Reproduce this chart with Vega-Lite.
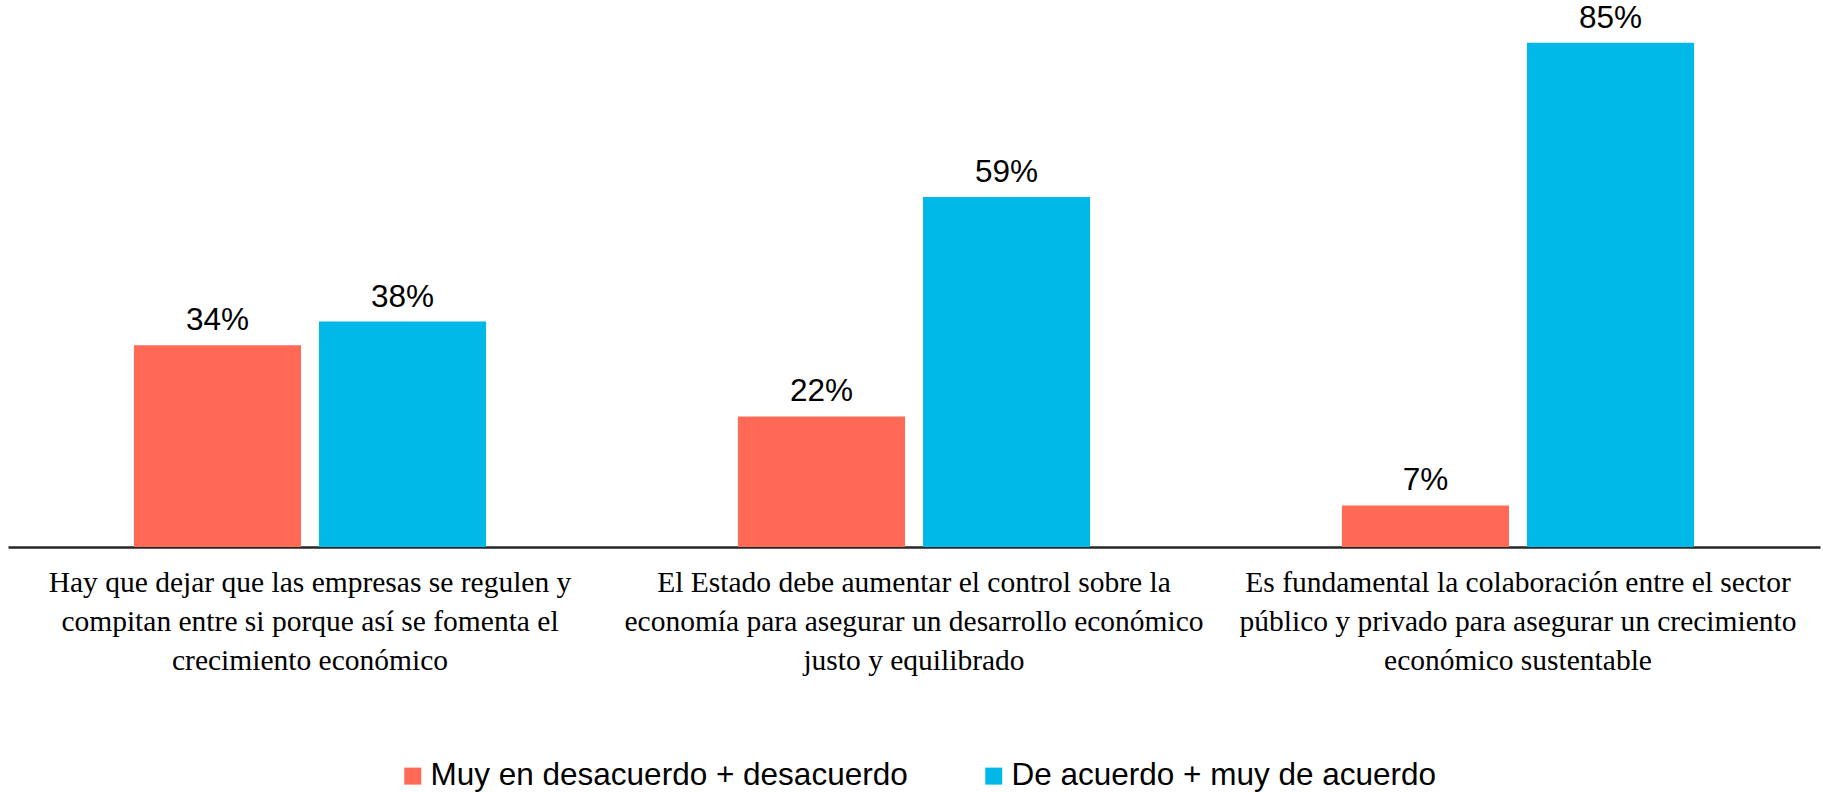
{
  "$schema": "https://vega.github.io/schema/vega-lite/v6.json",
  "autosize": {"type": "none"},
  "width": 1812,
  "height": 542,
  "padding": {"left": 8, "top": 5, "right": 3, "bottom": 245},
  "background": "white",
  "config": {"view": {"stroke": null}},
  "data": {
    "values": [
      {"afirmacion": "Hay que dejar que las empresas se regulen y|compitan entre si porque así se fomenta el|crecimiento económico", "grupo": "Muy en desacuerdo + desacuerdo", "valor": 0.34},
      {"afirmacion": "Hay que dejar que las empresas se regulen y|compitan entre si porque así se fomenta el|crecimiento económico", "grupo": "De acuerdo + muy de acuerdo", "valor": 0.38},
      {"afirmacion": "El Estado debe aumentar el control sobre la|economía para asegurar un desarrollo económico|justo y equilibrado", "grupo": "Muy en desacuerdo + desacuerdo", "valor": 0.22},
      {"afirmacion": "El Estado debe aumentar el control sobre la|economía para asegurar un desarrollo económico|justo y equilibrado", "grupo": "De acuerdo + muy de acuerdo", "valor": 0.59},
      {"afirmacion": "Es fundamental la colaboración entre el sector|público y privado para asegurar un crecimiento|económico sustentable", "grupo": "Muy en desacuerdo + desacuerdo", "valor": 0.07},
      {"afirmacion": "Es fundamental la colaboración entre el sector|público y privado para asegurar un crecimiento|económico sustentable", "grupo": "De acuerdo + muy de acuerdo", "valor": 0.85}
    ]
  },
  "encoding": {
    "x": {
      "field": "afirmacion", "type": "nominal", "sort": null, "title": null,
      "scale": {"paddingInner": 0.417, "paddingOuter": 0.2085},
      "axis": {
        "labelAngle": 0,
        "labelExpr": "split(datum.label, '|')",
        "labelFont": "Liberation Serif",
        "labelFontSize": 29.5,
        "labelLineHeight": 39,
        "labelColor": "#000000",
        "labelPadding": 21,
        "labelLimit": 0,
        "labelBaseline": "top",
        "ticks": false,
        "grid": false,
        "domainColor": "#262626",
        "domainWidth": 2.5
      }
    },
    "xOffset": {
      "field": "grupo", "type": "nominal",
      "sort": ["Muy en desacuerdo + desacuerdo", "De acuerdo + muy de acuerdo"],
      "scale": {"paddingInner": 0.0973, "paddingOuter": 0}
    },
    "y": {
      "field": "valor", "type": "quantitative",
      "scale": {"domain": [0, 0.9135], "nice": false},
      "axis": null
    }
  },
  "layer": [
    {
      "mark": {"type": "bar"},
      "encoding": {
        "color": {
          "field": "grupo", "type": "nominal",
          "sort": ["Muy en desacuerdo + desacuerdo", "De acuerdo + muy de acuerdo"],
          "scale": {"domain": ["Muy en desacuerdo + desacuerdo", "De acuerdo + muy de acuerdo"], "range": ["#FF6955", "#00B9E8"]},
          "legend": {
            "title": null,
            "orient": "none",
            "legendX": 389,
            "legendY": 755,
            "padding": 0,
            "direction": "horizontal",
            "symbolType": "square",
            "symbolSize": 289,
            "symbolStrokeWidth": 0,
            "labelFont": "Liberation Sans",
            "labelFontSize": 31.5,
            "labelColor": "#000000",
            "labelLimit": 0,
            "labelOffset": 2,
            "columnPadding": 70
          }
        }
      }
    },
    {
      "mark": {"type": "text", "baseline": "alphabetic", "dy": -15, "font": "Liberation Sans", "fontSize": 31.5, "color": "#000000"},
      "encoding": {
        "text": {"field": "valor", "type": "quantitative", "format": ".0%"}
      }
    }
  ]
}
